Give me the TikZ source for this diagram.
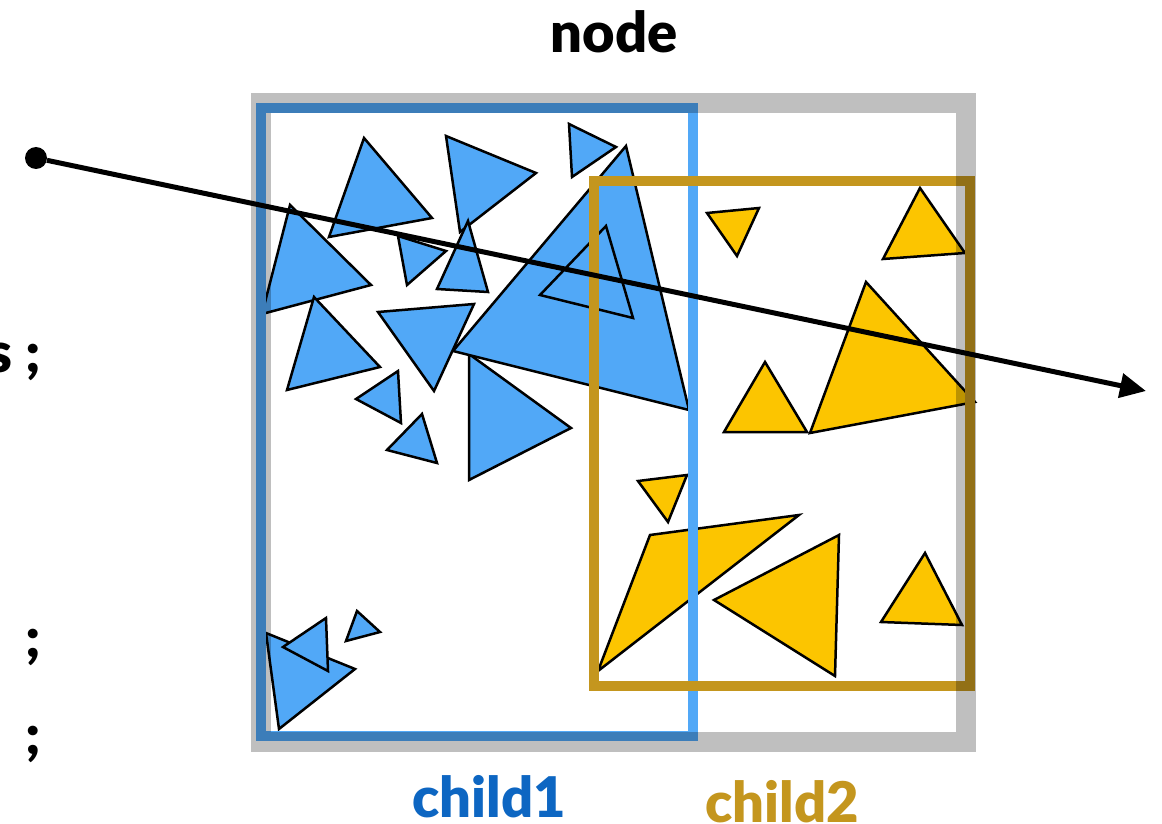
\documentclass[tikz,border=0pt]{standalone}
\usepackage{fontspec}
\setmainfont{Lato}[BoldFont={Lato Black}]
\usetikzlibrary{arrows.meta}

\definecolor{childblue}{HTML}{51A8F7}
\definecolor{childgold}{HTML}{C4961E}
\definecolor{primyellow}{HTML}{FCC500}
\definecolor{labelblue}{HTML}{0D66C2}

\begin{document}
\begin{tikzpicture}[
  x=1pt, y=-1pt,
  font=\fontsize{56}{60}\selectfont\bfseries,
  label/.style={anchor=base, inner sep=0pt},
  code/.style={anchor=base east, inner sep=0pt},
  tri/.style={draw=black, line width=2.5pt},
  bluetri/.style={tri, fill=childblue},
  yellowtri/.style={tri, fill=primyellow},
  ray/.style={draw=black, line width=5pt, -{Triangle[length=26pt,width=24pt]}}
]
\useasboundingbox (0,0) rectangle (1162,824);

\draw[bluetri] (364,138) -- (432,218) -- (329,237) -- cycle;
\draw[bluetri] (446,136) -- (536,173) -- (460,232) -- cycle;
\draw[bluetri] (569,124) -- (616,147) -- (572,177) -- cycle;
\draw[bluetri] (290,205) -- (371,285) -- (262,314) -- cycle;
\draw[bluetri] (398,236) -- (446,251) -- (407,285) -- cycle;
\draw[bluetri] (468,221) -- (488,292) -- (437,289) -- cycle;
\draw[bluetri] (314,297) -- (380,367) -- (287,390) -- cycle;
\draw[bluetri] (378,312) -- (474,304) -- (434,391) -- cycle;
\draw[bluetri] (356,399) -- (398,371) -- (401,423) -- cycle;
\draw[bluetri] (387,450) -- (422,414) -- (437,463) -- cycle;
\draw[bluetri] (469,354) -- (571,428) -- (469,480) -- cycle;
\draw[bluetri] (626,146) -- (689,410) -- (453,351) -- cycle;
\draw[bluetri] (606,226) -- (633,318) -- (540,295) -- cycle;
\draw[bluetri] (266,633) -- (355,669) -- (279,729) -- cycle;
\draw[bluetri] (326,618) -- (328,671) -- (283,647) -- cycle;
\draw[bluetri] (357,611) -- (380,632) -- (346,641) -- cycle;

\draw[yellowtri] (707,213) -- (759,208) -- (737,256) -- cycle;
\draw[yellowtri] (920,188) -- (965,253) -- (883,259) -- cycle;
\draw[yellowtri] (866,282) -- (975,402) -- (810,433) -- cycle;
\draw[yellowtri] (765,362) -- (807,432) -- (724,432) -- cycle;
\draw[yellowtri] (638,481) -- (687,475) -- (668,522) -- cycle;
\draw[yellowtri] (650,535) -- (799,515) -- (598,671) -- cycle;
\draw[yellowtri] (839,535) -- (835,676) -- (714,600) -- cycle;
\draw[yellowtri] (925,553) -- (962,625) -- (881,622) -- cycle;

% bounding boxes
\draw[childblue, line width=10pt] (261,108) rectangle (693,736);
\draw[childgold, line width=10.5pt] (594,181) rectangle (970,686);
\draw[black, draw opacity=0.25, line width=20pt] (261,103) rectangle (966,742);

\node[circle, fill=black, inner sep=0pt, minimum size=22pt] (origin) at (36,158) {};
\coordinate (hit) at (1146,391);
\draw[ray] (origin) -- (hit);

\node[label] (nodelabel) at (614,53) {node};
\node[label, labelblue] (child1label) at (489,817) {child1};
\node[label, childgold] (child2label) at (782,822) {child2};

\node[code] (codeA) at (41,372) {s ;};
\node[code] (codeB) at (41,657) {;};
\node[code] (codeC) at (41,754) {;};
\end{tikzpicture}
\end{document}
